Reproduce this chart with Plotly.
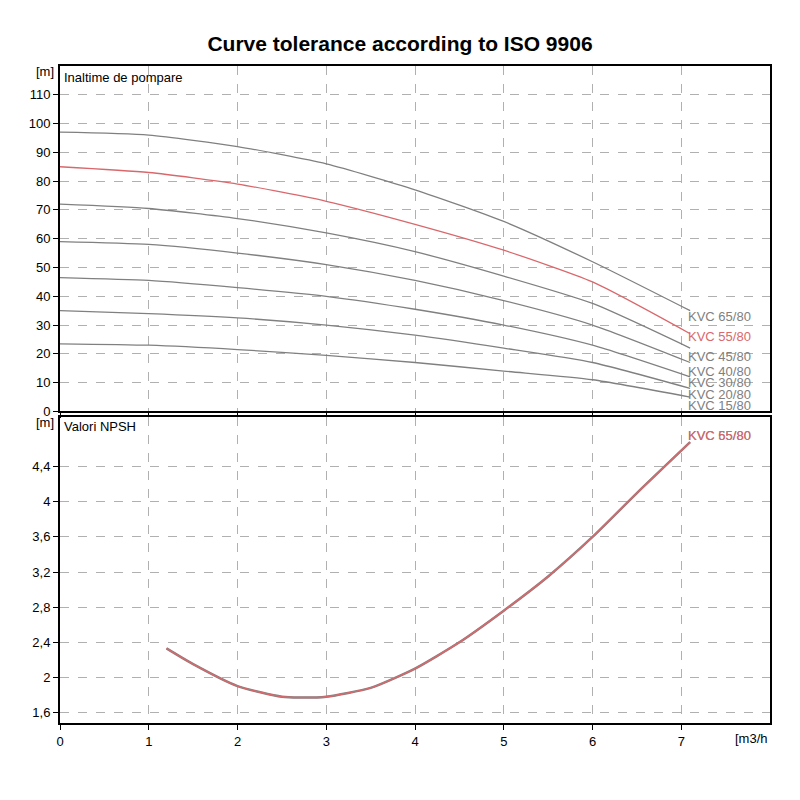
import plotly.graph_objects as go
from plotly.subplots import make_subplots

# debit [m3/h]
q = [0, 1, 2, 3, 4, 5, 6, 7.1]
curves = {
    "KVC 65/80": [97, 96, 92, 86, 77, 66, 52, 35],
    "KVC 55/80": [85, 83, 79, 73, 65, 56, 45, 27],
    "KVC 45/80": [72, 70.5, 67, 62, 55.5, 47, 37.5, 22],
    "KVC 40/80": [59, 58, 55, 51, 45.5, 38.5, 30, 17],
    "KVC 30/80": [46.5, 45.5, 43, 40, 35.5, 30, 23, 12],
    "KVC 20/80": [35, 34, 32.5, 30, 26.5, 22, 17, 8],
    "KVC 15/80": [23.5, 23, 21.5, 19.5, 17, 14, 11, 5],
}
label_y = {"KVC 65/80": 33, "KVC 55/80": 26, "KVC 45/80": 19, "KVC 40/80": 14,
           "KVC 30/80": 10, "KVC 20/80": 6, "KVC 15/80": 2}

npsh_q = [1.2, 1.5, 2, 2.5, 2.7, 3, 3.5, 4, 4.5, 5, 5.5, 6, 6.5, 7.1]
npsh = [2.33, 2.15, 1.9, 1.78, 1.77, 1.78, 1.88, 2.1, 2.4, 2.76, 3.15, 3.6, 4.1, 4.68]

grey = "#808080"
red = "#d9686c"

fig = make_subplots(rows=2, cols=1, shared_xaxes=True, vertical_spacing=0.008,
                    row_heights=[0.53, 0.47])

for name, h in curves.items():
    col = red if name == "KVC 55/80" else grey
    fig.add_trace(go.Scatter(x=q, y=h, mode="lines", line=dict(color=col, width=1.3, shape="spline", smoothing=0.6),
                             showlegend=False), row=1, col=1)
    fig.add_annotation(x=7.05, y=label_y[name], text=name, showarrow=False, xanchor="left",
                       font=dict(color=col, size=13), xref="x", yref="y")

fig.add_trace(go.Scatter(x=npsh_q, y=npsh, mode="lines", line=dict(color=grey, width=2.5, shape="spline", smoothing=0.6),
                         showlegend=False), row=2, col=1)
fig.add_trace(go.Scatter(x=npsh_q, y=npsh, mode="lines", line=dict(color=red, width=1.5, shape="spline", smoothing=0.6),
                         showlegend=False), row=2, col=1)
fig.add_annotation(x=7.05, y=4.76, text="KVC 65/80", showarrow=False, xanchor="left",
                   font=dict(color=grey, size=13), xref="x2", yref="y2")
fig.add_annotation(x=7.05, y=4.76, text="KVC 55/80", showarrow=False, xanchor="left",
                   font=dict(color=red, size=13), xref="x2", yref="y2")

fig.add_annotation(x=0.02, y=116, text="Inaltime de pompare", showarrow=False, xanchor="left",
                   font=dict(size=13), xref="x", yref="y")
fig.add_annotation(x=0.02, y=4.86, text="Valori NPSH", showarrow=False, xanchor="left",
                   font=dict(size=13), xref="x2", yref="y2")
fig.add_annotation(x=0, y=118, text="[m]", showarrow=False, xanchor="right", xshift=-4,
                   font=dict(size=13), xref="x", yref="y")
fig.add_annotation(x=0, y=4.9, text="[m]", showarrow=False, xanchor="right", xshift=-4,
                   font=dict(size=13), xref="x2", yref="y2")
fig.add_annotation(x=8.0, y=1.48, text="[m3/h", showarrow=False, xanchor="right", yanchor="top",
                   yshift=-6, font=dict(size=13), xref="x2", yref="y2")

ax = dict(showline=True, linecolor="black", linewidth=2, mirror=True, gridcolor="#b0b0b0",
          griddash="dash", zeroline=False, ticks="outside", tickcolor="black",
          tickfont=dict(size=13, color="black"), automargin=False)
fig.update_xaxes(range=[0, 8.0], tickvals=list(range(0, 8)), **ax)
fig.update_xaxes(showticklabels=False, row=1, col=1)
fig.update_yaxes(range=[0, 120], tickvals=list(range(0, 111, 10)), **ax, row=1, col=1)
fig.update_yaxes(range=[1.48, 4.97], tickvals=[1.6, 2, 2.4, 2.8, 3.2, 3.6, 4, 4.4],
                 ticktext=["1,6", "2", "2,4", "2,8", "3,2", "3,6", "4", "4,4"], **ax, row=2, col=1)

fig.update_layout(width=800, height=800, plot_bgcolor="white", paper_bgcolor="white",
                  font=dict(family="Liberation Sans, Arial", color="black"),
                  title=dict(text="<b>Curve tolerance according to ISO 9906</b>", x=0.49, y=0.965,
                             font=dict(size=21)),
                  margin=dict(l=52, r=38, t=58, b=85))
fig.write_html("out.html")
